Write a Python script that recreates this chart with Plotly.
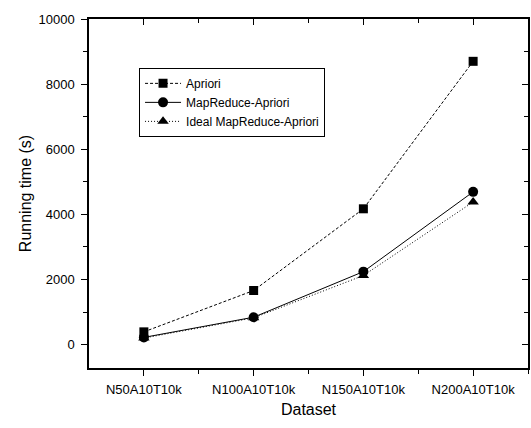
import plotly.graph_objects as go

categories = ["N50A10T10k", "N100A10T10k", "N150A10T10k", "N200A10T10k"]
apriori = [390, 1660, 4170, 8700]
mr_apriori = [220, 840, 2240, 4690]
ideal_mr_apriori = [200, 820, 2120, 4380]
y_ticks = [0, 2000, 4000, 6000, 8000, 10000]
y_tick_labels = ["0", "2000", "4000", "6000", "8000", "10000"]

xpos = list(range(1, len(categories) + 1))
FONT = "Liberation Sans, Arial, sans-serif"

fig = go.Figure()
fig.add_trace(go.Scatter(x=xpos, y=apriori, name="Apriori", mode="lines+markers",
                         line=dict(color="black", width=1, dash="3px,2px"),
                         marker=dict(symbol="square", size=9, color="black")))
fig.add_trace(go.Scatter(x=xpos, y=mr_apriori, name="MapReduce-Apriori", mode="lines+markers",
                         line=dict(color="black", width=1),
                         marker=dict(symbol="circle", size=10, color="black")))
fig.add_trace(go.Scatter(x=xpos, y=ideal_mr_apriori, name="Ideal MapReduce-Apriori", mode="lines+markers",
                         line=dict(color="black", width=1, dash="1px,2px"),
                         marker=dict(symbol="triangle-up", size=10, color="black")))
# invisible trace so the mirrored (top/right) axes get drawn
fig.add_trace(go.Scatter(x=xpos, y=apriori, xaxis="x2", yaxis="y2", mode="markers",
                         marker=dict(opacity=0), showlegend=False, hoverinfo="skip"))

xr = [0.5, 4.5]
yr = [-720, 10000]
fig.update_layout(
    width=531, height=428,
    margin=dict(l=89, r=3, t=19, b=60, autoexpand=False),
    paper_bgcolor="white", plot_bgcolor="white",
    font=dict(family=FONT, size=13, color="black"),
    xaxis=dict(range=xr, tickvals=xpos, ticktext=categories, ticks="outside", ticklen=6,
               tickwidth=1, tickcolor="black", showline=True, linecolor="black", linewidth=1.5,
               showgrid=False, zeroline=False, automargin=False, ticklabelstandoff=3,
               minor=dict(tickvals=[1.5, 2.5, 3.5, 4.5], ticks="outside", ticklen=4, tickcolor="black"),
               title=dict(text="Dataset", font=dict(size=16), standoff=7),
               tickfont=dict(size=13)),
    yaxis=dict(range=yr, tickvals=y_ticks, ticktext=y_tick_labels, ticks="outside", ticklen=6,
               tickwidth=1, tickcolor="black", showline=True, linecolor="black", linewidth=1.5,
               showgrid=False, zeroline=False, automargin=False, ticklabelstandoff=4,
               minor=dict(dtick=1000, ticks="outside", ticklen=4, tickcolor="black"),
               title=dict(text="Running time (s)", font=dict(size=16), standoff=3),
               tickfont=dict(size=13)),
    xaxis2=dict(range=xr, overlaying="x", side="top", anchor="y2", tickvals=xpos,
                showticklabels=False, ticks="inside", ticklen=6, tickcolor="black",
                showline=True, linecolor="black", linewidth=1.5, showgrid=False, zeroline=False,
                minor=dict(tickvals=[1.5, 2.5, 3.5, 4.5], ticks="inside", ticklen=4, tickcolor="black")),
    yaxis2=dict(range=yr, overlaying="y", side="right", anchor="x2", tickvals=y_ticks,
                showticklabels=False, ticks="inside", ticklen=6, tickcolor="black",
                showline=True, linecolor="black", linewidth=1.5, showgrid=False, zeroline=False,
                minor=dict(dtick=1000, ticks="inside", ticklen=4, tickcolor="black")),
    legend=dict(x=0.114, y=0.86, xanchor="left", yanchor="top",
                bordercolor="black", borderwidth=1, bgcolor="white",
                font=dict(size=12), tracegroupgap=0, itemwidth=36),
    showlegend=True,
)
fig.write_html("out.html", config={"displayModeBar": False},
               post_script="document.body.style.margin='0';")
